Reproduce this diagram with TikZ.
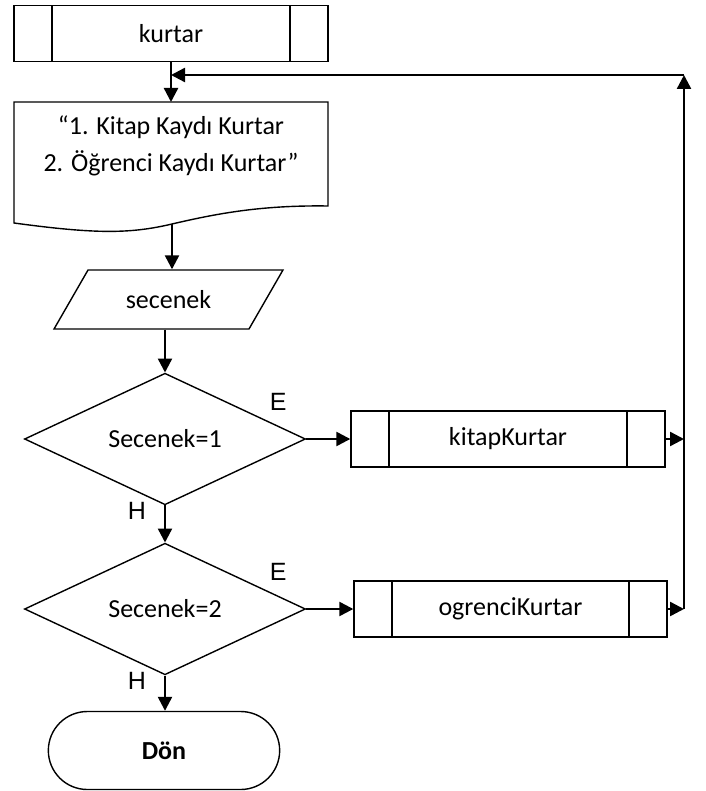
\documentclass[tikz,border=0pt]{standalone}
\usepackage{fontspec}
\setmainfont{Carlito}
\newfontfamily\labelfont{Liberation Sans}
\usetikzlibrary{%
    arrows.meta,%
    calc,%
    positioning,%
    shapes.geometric,%
    shapes.misc%
}

\tikzset{%
    shapeline/.style={draw,line width=1.4pt},
    flowline/.style={line width=2.4pt,-{Triangle[length=14pt,width=14pt]}},
    subproc/.style={shapeline,rectangle,minimum width=314pt,minimum height=56pt,
        path picture={\draw[line width=1.4pt]
            ([xshift=38pt]path picture bounding box.north west) -- ([xshift=38pt]path picture bounding box.south west)
            ([xshift=-38pt]path picture bounding box.north east) -- ([xshift=-38pt]path picture bounding box.south east);}},
    inputbox/.style={shapeline,trapezium,trapezium left angle=52,trapezium right angle=128,
        trapezium stretches=true,minimum width=229pt,minimum height=59pt},
    decision/.style={shapeline,diamond,minimum width=281pt,minimum height=129pt,inner sep=0pt},
    terminal/.style={shapeline,rounded rectangle,minimum width=238pt,minimum height=78pt},
    yesno/.style={font=\labelfont\fontsize{25}{30}\selectfont,inner sep=0pt}
}

\begin{document}
\begin{tikzpicture}[x=1pt,y=-1pt,every node/.style={font=\fontsize{26}{37}\selectfont}]
    \useasboundingbox (0,0) rectangle (705,791);

    % Sub process at the top
    \node[subproc] (kurtar) at (171,33.5) {kurtar};

    % Message shown to the user, outline drawn by hand
    \node[align=center] (msg) at (171,146) {“1. Kitap Kaydı Kurtar\\2. Öğrenci Kaydı Kurtar”};
    \draw[shapeline] (14,102) -- (328,102) -- (328,206)
        .. controls (260,205) and (215,214) .. (172,224)
        .. controls (130,234) and (95,234) .. (14,223) -- cycle;
    \coordinate (msgtop) at (171,102);
    \coordinate (msgout) at (172,224);

    % Input of the choice
    \node[inputbox] (opt) at (168.5,299.5) {secenek};

    % Decisions
    \node[decision] (d1) at (165,439) {Secenek=1};
    \node[decision] (d2) at (165,609) {Secenek=2};
    \node[yesno] (e1) at ($(d1.east)+(-28,-37)$) {E};
    \node[yesno] (h1) at ($(d1.south)+(-28,5)$) {H};
    \node[yesno] (e2) at ($(d2.east)+(-28,-37)$) {E};
    \node[yesno] (h2) at ($(d2.south)+(-28,5)$) {H};

    % Sub processes called on the right
    \node[subproc] (kitap) at (508,439) {kitapKurtar};
    \node[subproc,minimum width=313pt] (ogrenci) at (510.5,609) {ogrenciKurtar};

    % End of the routine
    \node[terminal,font=\bfseries\fontsize{26}{37}\selectfont] (don) at (164,750.5) {Dön};

    % Return line on the right
    \coordinate (rt) at (684,75);
    \coordinate (join) at (171,75);

    % Connect everything
    \draw[flowline] (kurtar.south) -- (msgtop);
    \draw[flowline] (msgout) -- (msgout |- opt.north);
    \draw[flowline] (opt.south -| d1.north) -- (d1.north);
    \draw[flowline] (d1.south) -- (d2.north);
    \draw[flowline] (d2.south) -- (d2.south |- don.north);
    \draw[flowline] (d1.east) -- (d1.east -| kitap.west);
    \draw[flowline] (d2.east) -- (d2.east -| ogrenci.west);
    \draw[flowline] (kitap.east) -- (kitap.east -| rt);
    \draw[flowline] (ogrenci.east) -- (ogrenci.east -| rt);
    \draw[flowline] (ogrenci.east -| rt) -- (rt);
    \draw[flowline] (rt) -- (join);
\end{tikzpicture}
\end{document}
